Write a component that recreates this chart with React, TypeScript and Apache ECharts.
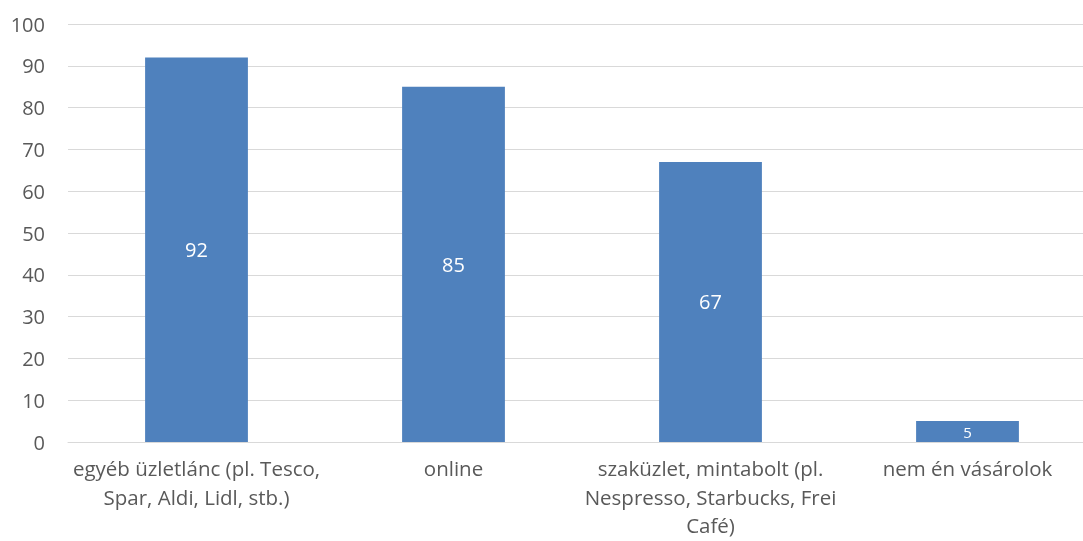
import React, { useEffect, useRef } from "react";
import * as echarts from "echarts";

const categories = [
  "egyéb üzletlánc (pl. Tesco,\nSpar, Aldi, Lidl, stb.)",
  "online",
  "szaküzlet, mintabolt (pl.\nNespresso, Starbucks, Frei\nCafé)",
  "nem én vásárolok",
];
const values = [92, 85, 67, 5];
const labelSizes = [20, 20, 20, 15];

export default function App() {
  const ref = useRef<HTMLDivElement>(null);
  useEffect(() => {
    if (!ref.current) return;
    const chart = echarts.init(ref.current, undefined, { renderer: "svg" });
    chart.setOption({
      animation: false,
      grid: {
        left: 68,
        right: -13,
        top: 24,
        bottom: 99,
        containLabel: false,
        outerBoundsMode: "none",
      },
      xAxis: {
        type: "category",
        data: categories,
        axisLine: { lineStyle: { color: "#D9D9D9", width: 1 } },
        axisTick: { show: false },
        axisLabel: {
          interval: 0,
          color: "#595959",
          fontFamily: "Open Sans",
          fontSize: 20.5,
          lineHeight: 28.5,
          margin: 12,
        },
      },
      yAxis: {
        type: "value",
        min: 0,
        max: 100,
        interval: 10,
        axisLine: { show: false },
        axisTick: { show: false },
        splitLine: { lineStyle: { color: "#D9D9D9", width: 1 } },
        axisLabel: {
          color: "#595959",
          fontFamily: "Open Sans",
          fontSize: 20,
          margin: 23,
        },
      },
      series: [
        {
          type: "bar",
          barWidth: "40%",
          data: values.map((v, i) => ({
            value: v,
            label: { fontSize: labelSizes[i] },
          })),
          itemStyle: { color: "#4F81BD" },
          label: {
            show: true,
            position: "inside",
            color: "#FFFFFF",
            fontFamily: "Open Sans",
          },
        },
      ],
    });
    return () => chart.dispose();
  }, []);
  return (
    <div
      ref={ref}
      style={{ position: "fixed", left: 0, top: 0, width: 1083, height: 541 }}
    />
  );
}
